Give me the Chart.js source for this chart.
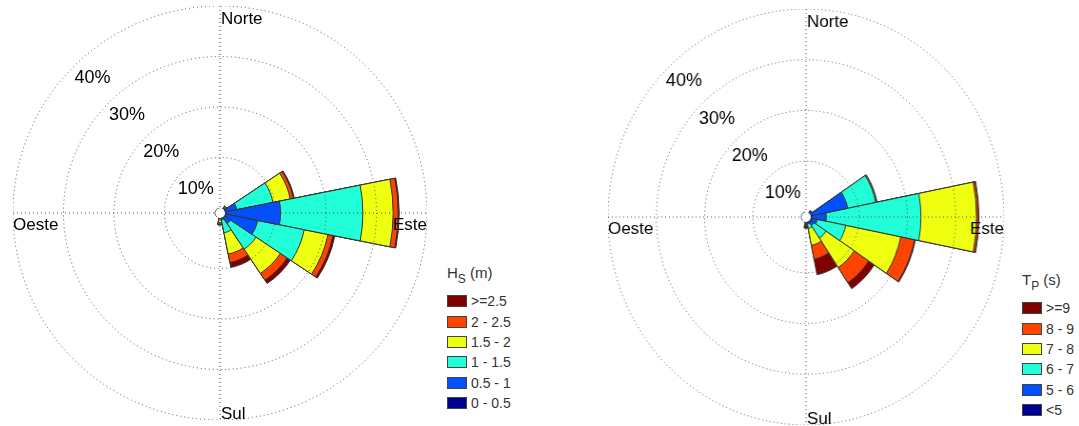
<!DOCTYPE html>
<html>
<head>
<meta charset="utf-8">
<script src="https://cdn.jsdelivr.net/npm/chart.js@4"></script>
<style>
  body { margin: 0; background: #fff; }
  #wrap { position: relative; width: 1079px; height: 426px; overflow: hidden; font-family: "Liberation Sans", Arial, sans-serif; }
  canvas { position: absolute; }
  .leg { position: absolute; color: #333; font-size: 14px; }
  .leg .ttl { font-size: 15px; height: 27px; }
  .leg .ttl sub { font-size: 12px; vertical-align: -5px; }
  .leg .row { display: flex; align-items: center; height: 20.4px; }
  .leg .sw { display: inline-block; width: 18px; height: 10px; border: 1px solid #444; margin-right: 4px; }
</style>
</head>
<body>
<div id="wrap">
  <canvas id="hsRose" width="414" height="414" style="left:13px;top:6px"></canvas>
  <canvas id="tpRose" width="416" height="416" style="left:598px;top:9px;transform:scaleX(0.952);transform-origin:50% 50%"></canvas>
  <div class="leg" id="hsLegend" style="left:447px;top:264px"></div>
  <div class="leg" id="tpLegend" style="left:1022px;top:271px"></div>
</div>
<script>
// 16 direction sectors, N clockwise
const directions = ['N', 'NNE', 'NE', 'ENE', 'E', 'ESE', 'SE', 'SSE', 'S', 'SSW', 'SW', 'WSW', 'W', 'WNW', 'NW', 'NNW'];
const cardinals = ['Norte', 'Este', 'Sul', 'Oeste'];
const pctTicks = [10, 20, 30, 40];
const classColors = ['#000090', '#0050ff', '#20ffd8', '#eeff10', '#ff4400', '#800000'];

// Hs (m) classes, % of occurrence per sector
const hsClasses = ['0 - 0.5', '0.5 - 1', '1 - 1.5', '1.5 - 2', '2 - 2.5', '>=2.5'];
const hs0 = [0, 0, 0.1, 0.2, 0.2, 0.1, 0.1, 0.1, 0, 0, 0, 0, 0, 0, 0, 0];
const hs1 = [0, 0, 0.2, 2.2, 10.8, 6.5, 1.4, 0.3, 0.1, 0, 0, 0, 0, 0, 0, 0];
const hs2 = [0, 0, 0.2, 7.3, 16.3, 9.4, 6.1, 2.6, 0.3, 0, 0, 0, 0, 0, 0, 0];
const hs3 = [0, 0, 0.1, 3.5, 6.0, 4.8, 5.8, 4.3, 0.5, 0, 0, 0, 0, 0, 0, 0];
const hs4 = [0, 0, 0.05, 0.6, 1.0, 1.0, 1.6, 1.7, 0.3, 0, 0, 0, 0, 0, 0, 0];
const hs5 = [0, 0, 0.05, 0.2, 0.2, 0.4, 0.8, 1.0, 0.2, 0, 0, 0, 0, 0, 0, 0];

// Tp (s) classes
const tpClasses = ['<5', '5 - 6', '6 - 7', '7 - 8', '8 - 9', '>=9'];
const tp0 = [0, 0, 0.2, 0.2, 0.2, 0.2, 0.2, 0.1, 0, 0, 0, 0, 0, 0, 0, 0];
const tp1 = [0, 0, 0.4, 7.6, 3.0, 1.2, 0.8, 0.3, 0, 0, 0, 0, 0, 0, 0, 0];
const tp2 = [0, 0, 0, 5.9, 19.6, 6.0, 3.0, 0.9, 0.1, 0, 0, 0, 0, 0, 0, 0];
const tp3 = [0, 0, 0, 0.2, 11.5, 11.6, 7.0, 3.4, 0.2, 0, 0, 0, 0, 0, 0, 0];
const tp4 = [0, 0, 0, 0.1, 0.4, 2.9, 3.6, 2.8, 0.2, 0, 0, 0, 0, 0, 0, 0];
const tp5 = [0, 0, 0, 0, 0.1, 0.2, 1.4, 3.1, 0.7, 0, 0, 0, 0, 0, 0, 0];

// stacked rose: dataset k holds the running sum of classes 0..k (smallest drawn on top)
function buildDatasets(series, labels) {
  return series.map((s, k) => ({
    label: labels[k],
    data: s.map((v, i) => series.slice(0, k + 1).reduce((a, c) => a + c[i], 0)),
    backgroundColor: ctx => s[ctx.dataIndex] > 0 ? classColors[k] : 'rgba(0,0,0,0)',
    borderColor: ctx => s[ctx.dataIndex] > 0 ? '#333' : 'rgba(0,0,0,0)',
    borderWidth: 1,
    angle: 360 / directions.length
  }));
}

const roseDecor = {
  id: 'roseDecor',
  afterDraw(chart, args, opts) {
    const ctx = chart.ctx;
    const s = chart.scales.r;
    const cx = s.xCenter, cy = s.yCenter, R = s.drawingArea;
    const sx = opts.textScaleX || 1;
    ctx.save();
    // N-S and E-W dotted lines
    ctx.strokeStyle = '#555';
    ctx.lineWidth = 1;
    ctx.setLineDash([1, 3]);
    ctx.beginPath();
    ctx.moveTo(cx - R, cy); ctx.lineTo(cx + R, cy);
    ctx.moveTo(cx, cy - R); ctx.lineTo(cx, cy + R);
    ctx.stroke();
    // center hole
    const h = s.getDistanceFromCenterForValue(0);
    ctx.setLineDash([]);
    ctx.fillStyle = '#fff';
    ctx.beginPath(); ctx.arc(cx, cy, h, 0, Math.PI * 2); ctx.fill();
    ctx.strokeStyle = '#444';
    ctx.lineWidth = 0.8;
    ctx.beginPath(); ctx.arc(cx, cy, h, 0.7 * Math.PI, 1.45 * Math.PI); ctx.stroke();

    const text = (str, x, y, align) => {
      ctx.save();
      ctx.translate(x, y);
      ctx.scale(sx, 1);
      ctx.textAlign = align;
      ctx.fillText(str, 0, 0);
      ctx.restore();
    };
    ctx.fillStyle = '#000';
    ctx.font = '17px "Liberation Sans", Arial, sans-serif';
    ctx.textBaseline = 'alphabetic';
    text(cardinals[0], cx + 1, cy - R + 18, 'left');
    text(cardinals[1], cx + R, cy + 17, 'right');
    text(cardinals[2], cx + 1, cy + R - 1, 'left');
    text(cardinals[3], cx - R, cy + 17, 'left');

    // percent labels along the NW diagonal
    ctx.font = '18px "Liberation Sans", Arial, sans-serif';
    ctx.textBaseline = 'middle';
    const a = 133 * Math.PI / 180;
    pctTicks.forEach(v => {
      const d = s.getDistanceFromCenterForValue(v) - 20;
      text(v + '%', cx + d * Math.cos(a), cy - d * Math.sin(a) + 2, 'center');
    });
    ctx.restore();
  }
};

function makeRose(id, series, labels, textScaleX) {
  return new Chart(document.getElementById(id), {
    type: 'polarArea',
    data: { labels: directions, datasets: buildDatasets(series, labels) },
    options: {
      responsive: false,
      animation: false,
      layout: { padding: 0 },
      plugins: {
        legend: { display: false },
        tooltip: { enabled: false },
        roseDecor: { textScaleX: textScaleX }
      },
      scales: {
        r: {
          type: 'radialLinear',
          min: -1,
          max: 40,
          bounds: 'data',
          startAngle: -180 / directions.length,
          ticks: { display: false },
          pointLabels: { display: false },
          angleLines: { display: false },
          grid: { circular: true, color: '#555', lineWidth: 1, z: 1, borderDash: [1, 3] },
          border: { dash: [1, 3] },
          afterBuildTicks: sc => { sc.ticks = pctTicks.map(v => ({ value: v })); }
        }
      }
    },
    plugins: [roseDecor]
  });
}

makeRose('hsRose', [hs0, hs1, hs2, hs3, hs4, hs5], hsClasses, 1);
makeRose('tpRose', [tp0, tp1, tp2, tp3, tp4, tp5], tpClasses, 1 / 0.952);

function buildLegend(id, titleHtml, labels) {
  const el = document.getElementById(id);
  let html = '<div class="ttl">' + titleHtml + '</div>';
  for (let k = labels.length - 1; k >= 0; k--) {
    html += '<div class="row"><span class="sw" style="background:' + classColors[k] + '"></span>' +
      labels[k].replace('<', '&lt;').replace('>', '&gt;') + '</div>';
  }
  el.innerHTML = html;
}
buildLegend('hsLegend', 'H<sub>S</sub> (m)', hsClasses);
buildLegend('tpLegend', 'T<sub>P</sub> (s)', tpClasses);
</script>
</body>
</html>
